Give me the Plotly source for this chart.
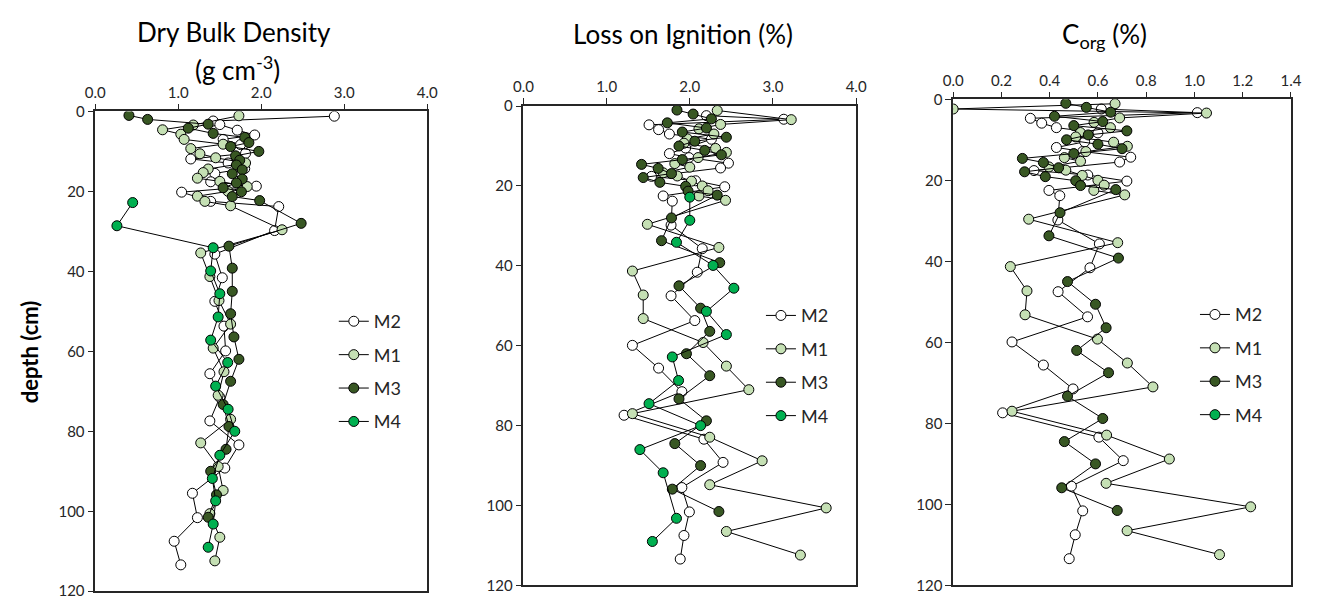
import plotly.graph_objects as go

# ---------------- data ----------------
depth_M2 = [1.2, 2.4, 3.3, 4.7, 5.9, 7.0, 8.3, 10.5, 11.9, 12.9, 14.3, 15.5, 17.6, 18.7, 20.2, 22.5,
            23.8, 29.8, 35.7, 41.6, 47.5, 53.7, 59.9, 65.6, 71.5, 77.4, 83.4, 89.2, 95.5, 101.6, 107.5, 113.4]
depth_M1 = [1.1, 2.4, 3.4, 4.6, 5.7, 7.0, 8.2, 9.3, 10.6, 11.6, 12.9, 14.4, 15.3, 16.7, 17.5, 18.8,
            20.0, 21.2, 22.5, 23.6, 29.6, 35.4, 41.3, 47.3, 53.2, 59.2, 65.1, 71.0, 77.0, 82.9, 88.8,
            94.8, 100.6, 106.5, 112.4]
depth_M3 = [1.0, 2.0, 3.2, 4.2, 5.5, 6.5, 7.8, 8.8, 10.0, 11.1, 12.2, 13.4, 14.6, 15.6, 16.9, 17.9,
            19.1, 20.1, 21.3, 22.3, 28.0, 33.7, 39.2, 45.0, 50.6, 56.4, 62.0, 67.5, 73.3, 78.8, 84.5,
            90.0, 95.9, 101.5]
depth_M4 = [22.8, 28.6, 34.1, 39.9, 45.6, 51.4, 57.2, 62.8, 68.7, 74.5, 80.0, 86.0, 91.8, 97.4, 103.2, 109.0]

# Dry bulk density (g cm-3)
dbd_M2 = [2.88, 1.42, 1.5, 1.71, 1.92, 1.54, 1.75, 1.81, 1.15, 1.6, 1.8, 1.44, 1.39, 1.94, 1.04, 1.39,
          2.21, 2.16, 1.44, 1.53, 1.44, 1.55, 1.57, 1.38, 1.5, 1.38, 1.73, 1.56, 1.17, 1.23, 0.95, 1.03]
dbd_M1 = [1.73, None, 1.18, 0.81, 1.03, 1.07, 1.54, 1.15, 1.26, 1.45, 1.81, 1.36, 1.3, 1.23, 1.5, 1.83,
          1.6, 1.23, 1.32, 1.63, 2.25, 1.27, 1.38, 1.49, 1.63, 1.42, 1.55, 1.48, 1.63, 1.27, 1.48,
          1.54, 1.38, 1.5, 1.44]
dbd_M3 = [0.405, 0.63, 1.36, 1.12, 1.42, 1.80, 1.85, 1.63, 1.97, 1.69, 1.74, 1.70, 1.77, 1.65, 1.77, 1.70,
          1.54, 1.76, 1.65, 1.98, 2.48, 1.61, 1.65, 1.65, 1.63, 1.67, 1.73, 1.63, 1.54, 1.61, 1.575,
          1.39, 1.46, 1.36]
dbd_M4 = [0.45, 0.26, 1.42, 1.39, 1.50, 1.48, 1.39, 1.595, 1.45, 1.6, 1.68, 1.5, 1.41, 1.45, 1.42, 1.36]

# Loss on ignition (%)
loi_M2 = [None, 2.2, 3.13, 1.51, 1.625, 1.755, 2.26, 1.95, 1.755, 1.99, 2.465, 2.37, 1.54, 2.07, 2.42, 1.68,
          1.79, 1.775, 2.15, 2.09, 1.775, 2.06, 1.31, 1.625, 1.905, 1.21, 2.17, 2.4, 1.905, 1.995, 1.93, 1.885]
loi_M1 = [2.33, None, 3.22, 2.37, 2.11, 2.29, 1.97, 1.93, 2.31, 2.44, 2.1, 1.82, 2.0, 1.68, 1.85, 2.02,
          2.15, 2.22, 2.11, 2.43, 1.49, 2.35, 1.31, 1.44, 1.44, 2.16, 2.44, 2.71, 1.31, 2.24, 2.87,
          2.24, 3.64, 2.44, 3.33]
loi_M3 = [1.846, 2.04, 2.26, 1.73, 2.2, 1.91, 2.44, 2.06, 1.87, 2.18, 2.38, 1.91, 1.42, 1.62, 1.78, 1.44,
          1.64, 1.95, 1.98, 2.33, 1.78, 1.66, 2.36, 1.87, 2.13, 2.24, 1.96, 2.24, 1.87, 2.2, 1.82,
          2.13, 1.79, 2.35]
loi_M4 = [2.0, 2.0, 1.84, 2.28, 2.53, 2.2, 2.44, 1.79, 1.865, 1.51, 2.13, 1.4, 1.68, None, 1.84, 1.55]

# Organic carbon (%)
corg_M2 = [None, 0.614, 1.012, 0.32, 0.367, 0.428, 0.6, 0.545, 0.428, 0.537, 0.736, 0.69, 0.335, 0.558, 0.72,
           0.397, 0.442, 0.434, 0.606, 0.567, 0.435, 0.557, 0.244, 0.374, 0.497, 0.205, 0.604, 0.705, 0.49,
           0.537, 0.506, 0.481]
corg_M1 = [0.671, 0.0, 1.05, 0.69, 0.584, 0.652, 0.527, 0.508, 0.665, 0.722, 0.55, 0.461, 0.528, 0.397,
           0.467, 0.535, 0.6, 0.626, 0.583, 0.711, 0.313, 0.682, 0.237, 0.306, 0.298, 0.598, 0.722, 0.828,
           0.244, 0.636, 0.896, 0.634, 1.233, 0.721, 1.104]
corg_M3 = [0.467, 0.552, 0.653, 0.42, 0.62, 0.50, 0.72, 0.56, 0.47, 0.60, 0.70, 0.50, 0.287, 0.374, 0.437,
           0.296, 0.382, 0.508, 0.528, 0.674, 0.443, 0.397, 0.685, 0.474, 0.59, 0.634, 0.512, 0.644, 0.474,
           0.62, 0.461, 0.59, 0.45, 0.68]
corg_M4 = [None] * len(depth_M4)

series_names = ["M2", "M1", "M3", "M4"]
depths = {"M2": depth_M2, "M1": depth_M1, "M3": depth_M3, "M4": depth_M4}
panels = [
    {"M2": dbd_M2, "M1": dbd_M1, "M3": dbd_M3, "M4": dbd_M4},
    {"M2": loi_M2, "M1": loi_M1, "M3": loi_M3, "M4": loi_M4},
    {"M2": corg_M2, "M1": corg_M1, "M3": corg_M3, "M4": corg_M4},
]
colors = {"M2": "#ffffff", "M1": "#c5e0b4", "M3": "#385723", "M4": "#00b050"}

xticks_dbd = [0.0, 1.0, 2.0, 3.0, 4.0]
xticks_loi = [0.0, 1.0, 2.0, 3.0, 4.0]
xticks_corg = [0.0, 0.2, 0.4, 0.6, 0.8, 1.0, 1.2, 1.4]
yticks = [0, 20, 40, 60, 80, 100, 120]

# ---------------- layout geometry (pixels) ----------------
W, H = 1329, 607
px = lambda v: v / W
py = lambda v: 1 - v / H

panel_geom = [
    (86.7, 424.0, 104.5, 599.0, [0, 4.0], xticks_dbd),
    (521.7, 859.7, 99.0, 593.0, [0, 4.0], xticks_loi),
    (958.3, 1301.5, 92.0, 593.0, [0, 1.4], xticks_corg),
]
legend_pos = [(335, 302), (769, 296), (1210, 295)]

FONT = "Lato, 'Open Sans', sans-serif"
fig = go.Figure()

for i, (vals, geom) in enumerate(zip(panels, panel_geom)):
    xa = "x" if i == 0 else f"x{i+1}"
    ya = "y" if i == 0 else f"y{i+1}"
    lg = "legend" if i == 0 else f"legend{i+1}"
    for s in series_names:
        fig.add_trace(go.Scatter(
            x=vals[s], y=depths[s], name=s, xaxis=xa, yaxis=ya, legend=lg,
            legendgroup=f"{s}_{i}", mode="lines+markers", connectgaps=True,
            line=dict(color="black", width=1),
            marker=dict(symbol="circle", size=10, color=colors[s],
                        line=dict(color="black", width=1)),
            showlegend=True,
        ))

layout = dict(
    width=W, height=H, margin=dict(l=0, r=0, t=0, b=0),
    paper_bgcolor="white", plot_bgcolor="white",
    font=dict(family=FONT, color="#262626"),
)
for i, (xl, xr, yt, yb, xr_rng, xt) in enumerate(panel_geom):
    kx = "xaxis" if i == 0 else f"xaxis{i+1}"
    ky = "yaxis" if i == 0 else f"yaxis{i+1}"
    ya = "y" if i == 0 else f"y{i+1}"
    xa = "x" if i == 0 else f"x{i+1}"
    layout[kx] = dict(
        domain=[px(xl), px(xr)], anchor=ya, side="top", range=xr_rng,
        tickmode="array", tickvals=xt, ticktext=[f"{v:.1f}" for v in xt],
        ticks="outside", ticklen=6, tickwidth=1, tickcolor="#262626",
        showline=True, linecolor="#262626", linewidth=1.5, mirror=True,
        showgrid=False, zeroline=False, tickfont=dict(size=15, family=FONT, color="#262626"),
    )
    layout[ky] = dict(
        domain=[py(yb), py(yt)], anchor=xa, range=[120, 0],
        tickmode="array", tickvals=yticks,
        ticks="outside", ticklen=6, tickwidth=1, tickcolor="#262626",
        showline=True, linecolor="#262626", linewidth=1.5, mirror=True,
        showgrid=False, zeroline=False, tickfont=dict(size=15, family=FONT, color="#262626"),
    )
    lgk = "legend" if i == 0 else f"legend{i+1}"
    lx, ly = legend_pos[i]
    layout[lgk] = dict(
        x=px(lx - 6), y=py(ly), xanchor="left", yanchor="top",
        bgcolor="rgba(0,0,0,0)", borderwidth=0, tracegroupgap=7,
        font=dict(size=18, family=FONT, color="#262626"), itemwidth=30,
    )

fig.update_layout(**layout)

anns = [
    dict(text="Dry Bulk Density", x=px(228), y=py(23)),
    dict(text="(g cm<sup>-3</sup>)", x=px(231), y=py(60)),
    dict(text="Loss on Ignition (%)", x=px(684), y=py(25)),
    dict(text="C<sub>org</sub> (%)", x=px(1112), y=py(26)),
]
for a in anns:
    fig.add_annotation(xref="paper", yref="paper", showarrow=False,
                       xanchor="center", yanchor="middle",
                       font=dict(size=26, family=FONT, color="black"), **a)
fig.add_annotation(text="<b>depth (cm)</b>", xref="paper", yref="paper", x=px(20), y=py(352),
                   textangle=-90, showarrow=False, xanchor="center", yanchor="middle",
                   font=dict(size=22, family=FONT, color="black"))

fig.write_html("out.html")
